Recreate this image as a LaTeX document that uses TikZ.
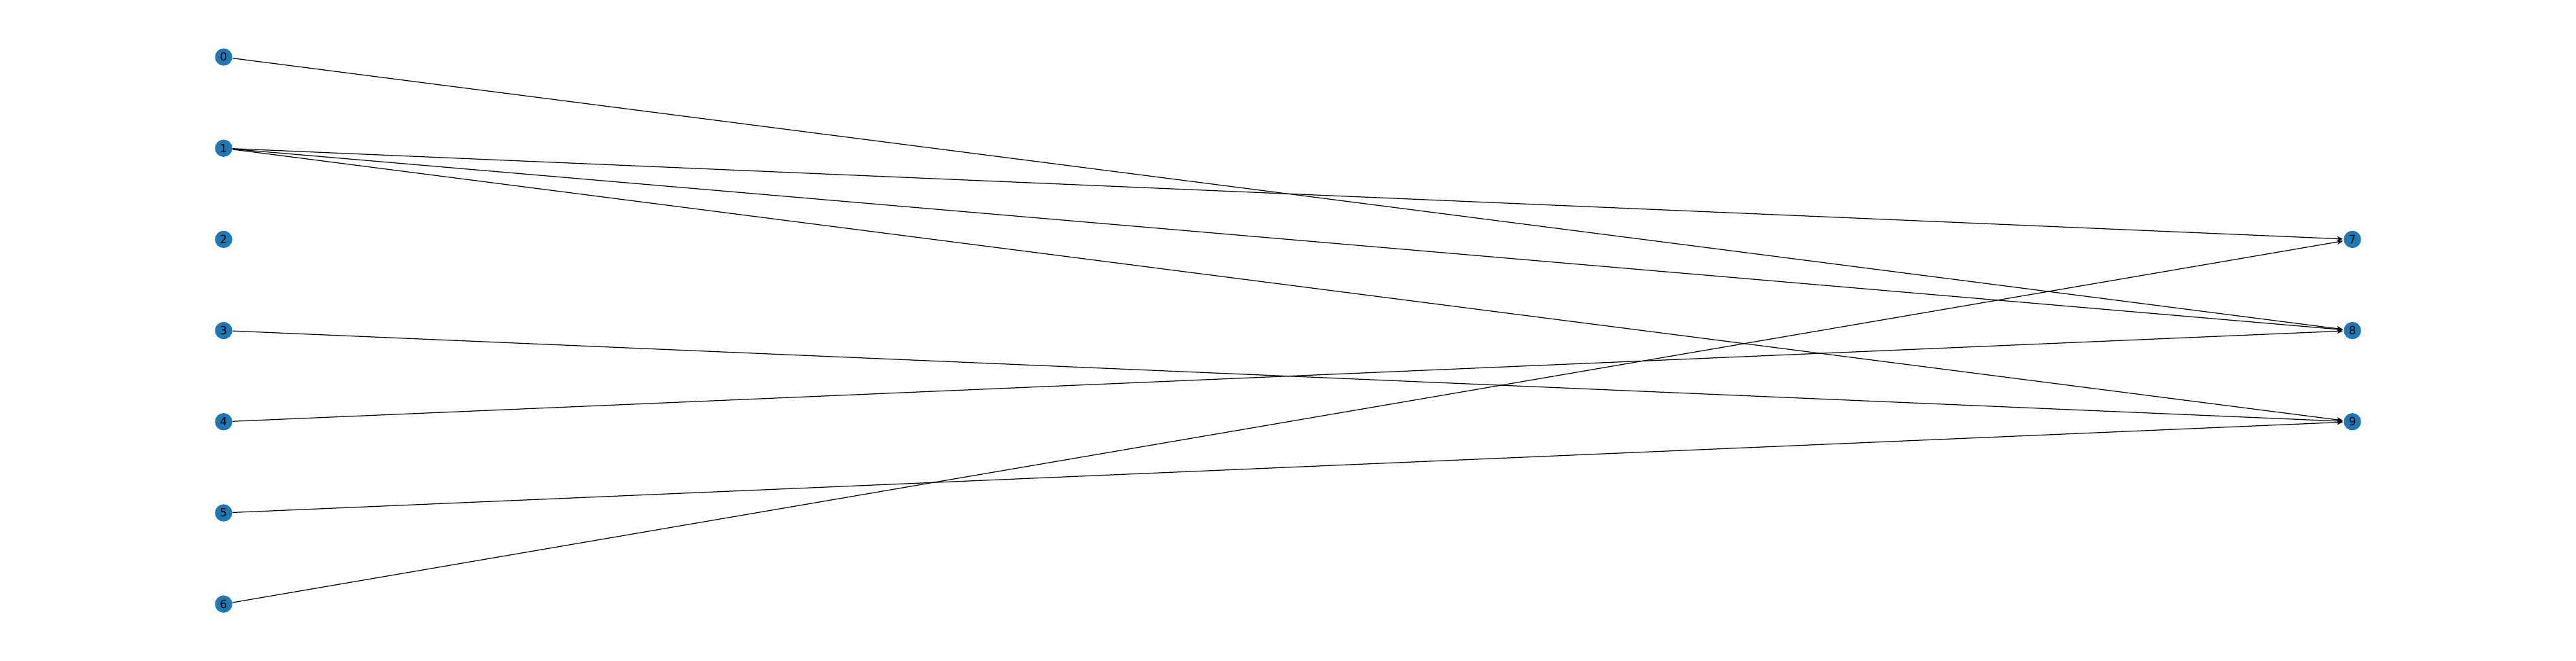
\documentclass[tikz,border=0pt]{standalone}
\usepackage{fontspec}
\setmainfont{DejaVu Sans}
\usepackage{tikz}
\usetikzlibrary{positioning, arrows.meta}
\usepackage{xcolor}
\definecolor{nodeblue}{HTML}{1F77B4}

\begin{document}
\begin{tikzpicture}[node distance=1.342cm, on grid,
	vertex/.style={circle, fill=nodeblue, inner sep=0pt, minimum size=0.254cm, font=\fontsize{4.7}{4.7}\selectfont},
	arc/.style={-{Stealth[length=0.85mm, width=0.75mm]}, line width=0.35pt, shorten >=0.2pt}]
					\useasboundingbox (0,0) rectangle (37.9,9.73);
					\node[vertex] at (3.29,8.89) (n0) {0};
					\node[vertex, below=of n0] (n1) {1};
					\node[vertex, below=of n1] (n2) {2};
					\node[vertex, below=of n2] (n3) {3};
					\node[vertex, below=of n3] (n4) {4};
					\node[vertex, below=of n4] (n5) {5};
					\node[vertex, below=of n5] (n6) {6};
					\node[vertex, right=31.32cm of n2] (n7) {7};
					\node[vertex, below=of n7] (n8) {8};
					\node[vertex, below=of n8] (n9) {9};
					
					\draw
					(n0) edge[arc] (n8)
					(n1) edge[arc] (n7)
					edge[arc] (n8)
					edge[arc] (n9)
					(n3) edge[arc] (n9)
					(n4) edge[arc] (n8)
					(n5) edge[arc] (n9)
					(n6) edge[arc] (n7);
				\end{tikzpicture}
\end{document}
